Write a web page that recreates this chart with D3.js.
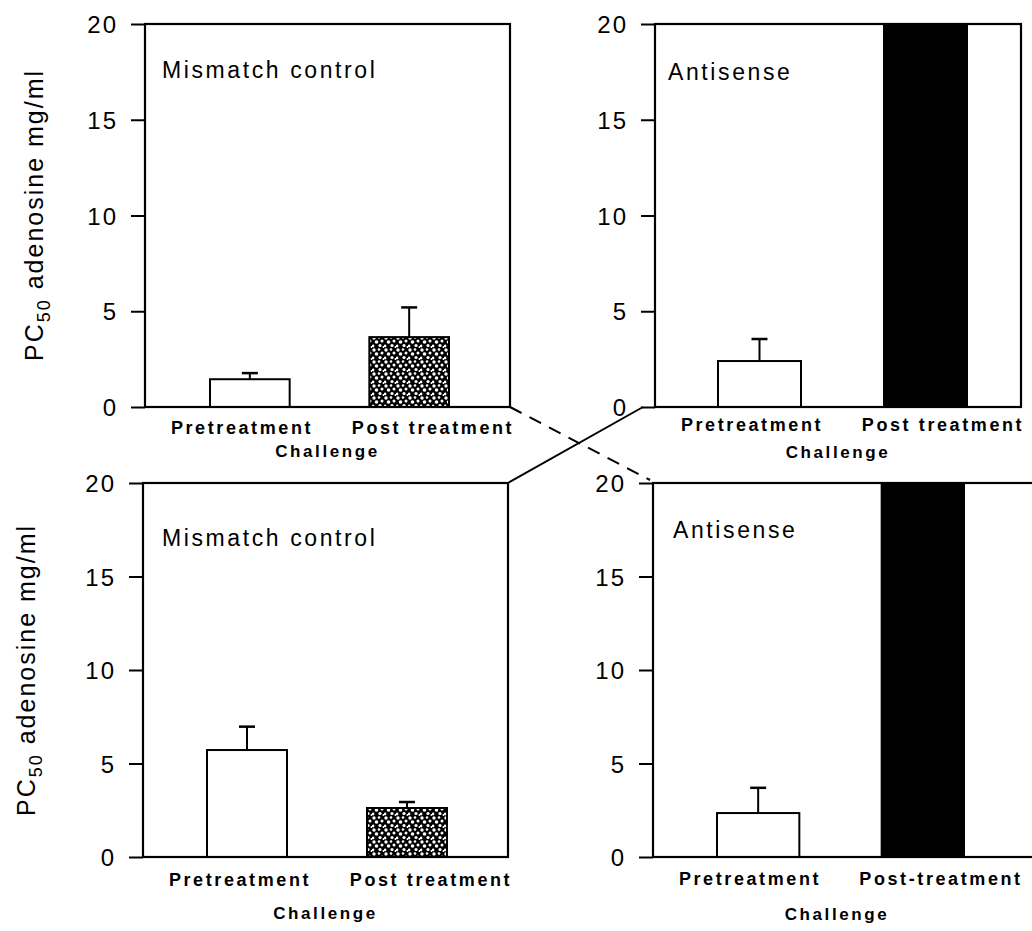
<!DOCTYPE html>
<html><head><meta charset="utf-8">
<script src="https://cdn.jsdelivr.net/npm/d3@7"></script>
<style>body{margin:0;background:#fff}</style>
</head><body>
<svg id="chart" width="1032" height="931"></svg>
<script>
// ---- data ----
const categories = ["Pretreatment", "Post treatment"];
const categoriesBR = ["Pretreatment", "Post-treatment"];
const panelTitles = ["Mismatch control", "Antisense", "Mismatch control", "Antisense"];
const yTickValues = [0, 5, 10, 15, 20];
const xAxisTitle = "Challenge";
const yAxisTitleMain = "PC";
const yAxisTitleSub = "50";
const yAxisTitleRest = " adenosine mg/ml";
const mismatchTopMeans = [1.45, 3.65];
const mismatchTopErrors = [0.32, 1.55];
const antisenseTopMeans = [2.4, 20];
const antisenseTopErrors = [1.15, null];
const mismatchBottomMeans = [5.72, 2.62];
const mismatchBottomErrors = [1.25, 0.32];
const antisenseBottomMeans = [2.35, 20];
const antisenseBottomErrors = [1.35, null];

// ---- layout ----
const panels = [
  {x0:145, x1:510, border:510, y0:407, yTop:24, bars:[210,449], titleDx:17, titleDy:54, labDy:27, chDy:50,
   yLab:{x:43,y:215}, cats:categories, title:panelTitles[0], means:mismatchTopMeans, errs:mismatchTopErrors, postFill:"url(#stipple)"},
  {x0:655, x1:1021, border:1021, y0:407, yTop:24, bars:[718,967], titleDx:13, titleDy:56, labDy:24, chDy:51,
   yLab:null, cats:categories, title:panelTitles[1], means:antisenseTopMeans, errs:antisenseTopErrors, postFill:"#000"},
  {x0:143, x1:508, border:508, y0:857, yTop:483, bars:[207,447], titleDx:19, titleDy:63, labDy:29, chDy:62,
   yLab:{x:35,y:670}, cats:categories, title:panelTitles[2], means:mismatchBottomMeans, errs:mismatchBottomErrors, postFill:"url(#stipple)"},
  {x0:653, x1:1021, border:1040, y0:857, yTop:483, bars:[717,964], titleDx:20, titleDy:55, labDy:28, chDy:63,
   yLab:null, cats:categoriesBR, title:panelTitles[3], means:antisenseBottomMeans, errs:antisenseBottomErrors, postFill:"#000"}
];

const svg = d3.select("#chart");
const font = "'Liberation Sans', Arial, Helvetica, sans-serif";

// stipple pattern for the mismatch post-treatment bars
const defs = svg.append("defs");
const pat = defs.append("pattern").attr("id","stipple").attr("patternUnits","userSpaceOnUse")
  .attr("width",12).attr("height",12);
pat.append("rect").attr("width",12).attr("height",12).attr("fill","#000");
[[2,2,1.7],[7,1.5,1.3],[10,5,1.5],[4.5,6,1.8],[1,10,1.4],[8,9.5,1.6],[11.5,11,1.0]].forEach(d=>{
  pat.append("circle").attr("cx",d[0]).attr("cy",d[1]).attr("r",d[2]).attr("fill","#fff");
});

// connectors between panels
const P = panels;
svg.append("line")
  .attr("x1",P[0].x1).attr("y1",P[0].y0).attr("x2",P[3].x0-3).attr("y2",P[3].yTop-3)
  .attr("stroke","#000").attr("stroke-width",2).attr("stroke-dasharray","13,9");
svg.append("line")
  .attr("x1",P[1].x0-12).attr("y1",P[1].y0).attr("x2",P[2].x1).attr("y2",P[2].yTop)
  .attr("stroke","#000").attr("stroke-width",2);

panels.forEach(p => {
  const g = svg.append("g");
  const y = d3.scaleLinear().domain([0,20]).range([p.y0, p.yTop]);
  const x = d3.scaleBand().domain(p.cats).range(p.bars).paddingInner(0.5).paddingOuter(0);
  const xl = d3.scalePoint().domain(p.cats).range([p.x0+97, p.x0+288]);

  // bars
  const data = p.cats.map((c,i)=>({c, v:p.means[i], e:p.errs[i], i}));
  g.selectAll("rect.bar").data(data).join("rect").attr("class","bar")
    .attr("x", d=>x(d.c)).attr("width", x.bandwidth())
    .attr("y", d=>y(d.v)).attr("height", d=>y(0)-y(d.v))
    .attr("fill", d=>d.i===0 ? "#fff" : p.postFill)
    .attr("stroke","#000").attr("stroke-width",2);

  // error bars
  const eb = data.filter(d=>d.e!=null);
  g.selectAll("line.err").data(eb).join("line").attr("class","err")
    .attr("x1", d=>x(d.c)+x.bandwidth()/2).attr("x2", d=>x(d.c)+x.bandwidth()/2)
    .attr("y1", d=>y(d.v)).attr("y2", d=>y(d.v+d.e))
    .attr("stroke","#000").attr("stroke-width",2);
  g.selectAll("line.cap").data(eb).join("line").attr("class","cap")
    .attr("x1", d=>x(d.c)+x.bandwidth()/2-8).attr("x2", d=>x(d.c)+x.bandwidth()/2+8)
    .attr("y1", d=>y(d.v+d.e)).attr("y2", d=>y(d.v+d.e))
    .attr("stroke","#000").attr("stroke-width",2.5);

  // box
  g.append("rect").attr("x",p.x0).attr("y",p.yTop).attr("width",p.border-p.x0).attr("height",p.y0-p.yTop)
    .attr("fill","none").attr("stroke","#000").attr("stroke-width",2.2);

  // y axis
  const ax = g.append("g").attr("transform",`translate(${p.x0},0)`)
    .call(d3.axisLeft(y).tickValues(yTickValues).tickSize(14).tickSizeOuter(0).tickPadding(13).tickFormat(d3.format("d")));
  ax.select(".domain").remove();
  ax.selectAll(".tick line").attr("stroke","#000").attr("stroke-width",2);
  ax.selectAll(".tick text").attr("fill","#000").style("font-family",font).style("font-size","24px")
    .style("letter-spacing","2px").attr("dy","0.36em");

  // x category labels
  g.selectAll("text.cat").data(p.cats).join("text").attr("class","cat")
    .attr("x", d=>xl(d)).attr("y", p.y0+p.labDy).attr("text-anchor","middle")
    .style("font-family",font).style("font-size","18px").style("font-weight","bold")
    .style("letter-spacing","2.6px").text(d=>d);
  g.append("text").attr("x",(p.x0+p.x1)/2).attr("y",p.y0+p.chDy).attr("text-anchor","middle")
    .style("font-family",font).style("font-size","17px").style("font-weight","bold")
    .style("letter-spacing","2.6px").text(xAxisTitle);

  // panel title
  g.append("text").attr("x",p.x0+p.titleDx).attr("y",p.yTop+p.titleDy)
    .style("font-family",font).style("font-size","23px").style("letter-spacing","2.6px").text(p.title);

  // y axis title
  if (p.yLab) {
    const t = g.append("text").attr("transform",`translate(${p.yLab.x},${p.yLab.y}) rotate(-90)`)
      .attr("text-anchor","middle").style("font-family",font).style("font-size","25px").style("letter-spacing","2px");
    t.append("tspan").text(yAxisTitleMain);
    t.append("tspan").attr("dy",7).style("font-size","18px").text(yAxisTitleSub);
    t.append("tspan").attr("dy",-7).text(yAxisTitleRest);
  }
});
</script>
</body></html>
